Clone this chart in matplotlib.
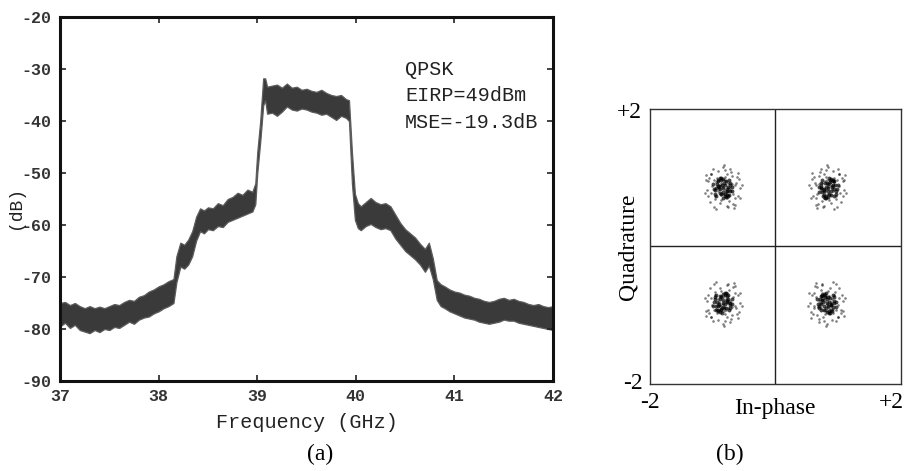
import matplotlib
matplotlib.use("Agg")
import matplotlib.pyplot as plt

# ---------------- data: spectrum envelope (a) ----------------
freq_ghz = [37.00, 37.05, 37.10, 37.15, 37.20, 37.25, 37.30, 37.35, 37.40, 37.45,
            37.50, 37.55, 37.60, 37.65, 37.70, 37.75, 37.80, 37.85, 37.90, 37.95,
            38.00, 38.05, 38.10, 38.15, 38.18, 38.22, 38.26, 38.30, 38.34, 38.38,
            38.42, 38.46, 38.50, 38.55, 38.60, 38.65, 38.70, 38.75, 38.80, 38.85,
            38.90, 38.95, 38.98, 39.00, 39.03, 39.06, 39.08, 39.10, 39.15, 39.20,
            39.25, 39.30, 39.35, 39.40, 39.45, 39.50, 39.55, 39.60, 39.65, 39.70,
            39.75, 39.80, 39.85, 39.90, 39.93, 39.96, 39.99, 40.02, 40.05, 40.10,
            40.15, 40.20, 40.25, 40.30, 40.35, 40.40, 40.45, 40.50, 40.55, 40.60,
            40.65, 40.70, 40.74, 40.78, 40.82, 40.86, 40.90, 40.95, 41.00, 41.05,
            41.10, 41.15, 41.20, 41.25, 41.30, 41.35, 41.40, 41.45, 41.50, 41.55,
            41.60, 41.65, 41.70, 41.75, 41.80, 41.85, 41.90, 41.95, 42.00]
upper_db = [-75.0, -74.8, -75.4, -75.0, -75.6, -76.0, -75.6, -76.0, -75.7, -76.0,
            -75.6, -75.2, -75.4, -74.8, -74.4, -74.6, -73.8, -73.5, -72.8, -72.4,
            -71.8, -71.4, -70.8, -70.4, -66.0, -63.4, -63.8, -62.8, -61.2, -58.4,
            -56.8, -57.2, -56.6, -56.8, -55.8, -56.2, -55.0, -54.6, -53.8, -54.2,
            -53.2, -53.6, -52.0, -46.0, -40.0, -31.8, -31.8, -33.4, -33.2, -33.0,
            -33.6, -32.8, -33.6, -33.4, -34.0, -33.8, -34.2, -34.4, -34.0, -34.6,
            -35.0, -35.2, -35.0, -35.8, -36.0, -46.0, -54.0, -55.8, -56.4, -55.6,
            -54.8, -55.6, -56.0, -55.8, -56.4, -58.0, -59.6, -60.8, -61.6, -62.4,
            -63.6, -64.6, -63.4, -66.4, -70.6, -71.4, -71.8, -72.4, -72.8, -73.0,
            -73.4, -73.6, -74.0, -74.2, -74.6, -74.8, -74.6, -74.2, -74.0, -74.4,
            -74.2, -74.6, -74.8, -75.2, -75.4, -75.2, -75.6, -75.8, -75.6]
lower_db = [-79.5, -78.8, -79.8, -79.2, -80.2, -80.5, -80.8, -80.2, -80.6, -80.0,
            -80.2, -79.6, -79.8, -79.2, -78.6, -79.0, -78.2, -77.8, -77.6, -77.0,
            -76.6, -76.0, -75.6, -75.0, -71.0, -68.0, -68.4, -67.6, -66.0, -63.0,
            -61.2, -61.6, -60.8, -61.0, -60.2, -60.4, -59.4, -59.0, -58.6, -58.2,
            -57.8, -57.4, -56.0, -50.0, -44.0, -37.0, -36.0, -38.6, -38.4, -39.0,
            -38.2, -37.2, -37.8, -38.0, -37.6, -37.8, -38.2, -38.4, -38.8, -38.6,
            -39.2, -39.8, -39.0, -39.4, -40.0, -52.0, -59.0, -60.6, -61.0, -60.2,
            -59.8, -60.4, -60.8, -60.6, -61.0, -62.6, -63.8, -65.0, -65.8, -66.6,
            -67.6, -69.0, -67.8, -70.4, -74.4, -75.6, -76.0, -76.6, -77.0, -77.4,
            -77.8, -78.0, -78.2, -78.6, -78.8, -79.0, -78.8, -78.6, -78.2, -78.4,
            -78.4, -78.8, -79.0, -79.2, -79.4, -79.6, -79.8, -80.0, -80.2]

x_ticks_a = [37, 38, 39, 40, 41, 42]
y_ticks_a = [-90, -80, -70, -60, -50, -40, -30, -20]
annot_lines = ["QPSK", "EIRP=49dBm", "MSE=-19.3dB"]

# ---------------- data: constellation (b) ----------------
cluster_i = [-0.84, 0.84, -0.84, 0.82]
cluster_q = [0.85, 0.85, -0.82, -0.82]
# outer scatter of a cluster (offsets from its centre)
spread_di = [0.00, 0.05, -0.06, 0.09, -0.03, 0.12, -0.10, 0.02, 0.07, -0.08,
             0.14, -0.14, 0.03, -0.02, 0.17, -0.17, 0.06, -0.09, 0.10, -0.12,
             0.20, -0.19, 0.13, -0.05, 0.24, -0.23, 0.15, -0.13, 0.04, -0.18,
             0.26, -0.25, 0.19, 0.08, -0.15, 0.28, -0.27, 0.21, -0.20, 0.00,
             0.18, -0.06, 0.11, -0.22, 0.25, 0.07, -0.10, 0.30, -0.29, 0.02,
             0.03, -0.05, 0.06, -0.03, 0.01, 0.09, -0.07, 0.05, -0.02, 0.08,
             0.22, -0.24, 0.16, -0.18, 0.27, -0.26, 0.12, -0.14, 0.20, -0.08]
spread_dq = [0.02, -0.06, 0.05, 0.07, -0.10, -0.03, 0.09, 0.12, -0.14, -0.05,
             0.06, 0.11, 0.16, -0.18, -0.08, 0.03, 0.20, 0.15, -0.19, -0.12,
             0.04, -0.07, 0.23, -0.22, -0.11, 0.10, 0.17, -0.16, 0.26, 0.21,
             0.13, -0.03, -0.25, -0.28, 0.27, -0.15, 0.19, 0.08, -0.21, 0.30,
             -0.29, -0.02, 0.00, 0.14, 0.22, -0.26, -0.31, 0.05, -0.07, 0.33,
             -0.03, 0.03, -0.06, 0.07, -0.08, 0.00, 0.02, 0.10, 0.04, -0.04,
             0.16, -0.11, -0.23, 0.20, 0.00, 0.12, 0.28, -0.27, -0.15, 0.25]
# dense core of a cluster
core_di = [0.00, 0.04, -0.04, 0.07, -0.07, 0.02, -0.02, 0.05, -0.05, 0.09,
           -0.09, 0.11, -0.11, 0.03, -0.03, 0.12, -0.12, 0.00, 0.07, -0.07,
           0.14, -0.14, 0.01, -0.05, 0.05, 0.10, -0.10, 0.15, -0.15, 0.00,
           0.08, -0.08, 0.12, -0.01, 0.03, -0.12, 0.06, -0.06, 0.10, -0.03]
core_dq = [0.00, 0.05, -0.02, -0.04, 0.03, 0.08, -0.08, 0.10, -0.07, 0.02,
           0.06, -0.05, 0.00, -0.11, 0.12, 0.05, -0.03, 0.13, -0.10, 0.10,
           0.02, -0.02, -0.14, 0.14, -0.13, 0.11, -0.11, -0.05, 0.06, -0.06,
           -0.12, 0.12, 0.08, 0.04, -0.09, -0.08, -0.01, 0.01, -0.10, 0.15]

# ---------------- figure ----------------
fig = plt.figure(figsize=(9.07, 4.71), dpi=100)
mono = "Liberation Mono"
serif = "Liberation Serif"

ax = fig.add_axes([0.0662, 0.1911, 0.5436, 0.7728])
ax.fill_between(freq_ghz, lower_db, upper_db, color="#3a3a3a", linewidth=0.9,
                edgecolor="#5c5c5c")
ax.set_xlim(37, 42)
ax.set_ylim(-90, -20)
ax.set_xticks(x_ticks_a)
ax.set_yticks(y_ticks_a)
ax.set_xticklabels([str(v) for v in x_ticks_a], fontfamily=mono, fontsize=12,
                   fontweight="bold")
ax.set_yticklabels([str(v) for v in y_ticks_a], fontfamily=mono, fontsize=12,
                   fontweight="bold")
ax.tick_params(direction="in", top=True, right=True, length=4, width=1.2,
               colors="#222222", pad=6)
for lab in ax.get_xticklabels() + ax.get_yticklabels():
    lab.set_color("#333333")
for s in ax.spines.values():
    s.set_linewidth(2.2)
    s.set_color("#111111")
ax.set_xlabel("Frequency (GHz)", fontfamily=mono, fontsize=14.5, labelpad=6,
              color="#222222")
fig.text(0.017, 0.56, "(dB)", rotation=90, fontfamily=mono, fontsize=13,
         ha="center", va="center", color="#222222")
for k, line in enumerate(annot_lines):
    ax.text(0.7, 0.855 - k * 0.072, line, transform=ax.transAxes,
            fontfamily=mono, fontsize=14.5, va="center", ha="left", color="#222222")
fig.text(0.3528, 0.035, "(a)", fontfamily=serif, fontsize=17, ha="center", va="center")

# ---------------- panel (b) ----------------
bx = fig.add_axes([0.7166, 0.1847, 0.2767, 0.5839])
bx.set_xlim(-2, 2)
bx.set_ylim(-2, 2)
bx.axhline(0, color="#222222", lw=1.0)
bx.axvline(0, color="#222222", lw=1.0)
for ci, cq, sx, sy in zip(cluster_i, cluster_q, [1, -1, 1, -1], [1, 1, -1, -1]):
    bx.scatter([ci + sx * d for d in spread_di], [cq + sy * d for d in spread_dq],
               s=3.5, color="black", alpha=0.5, linewidths=0)
    bx.scatter([ci + sy * d for d in core_di], [cq + sx * d for d in core_dq],
               s=8, color="black", alpha=0.7, linewidths=0)
bx.set_xticks([])
bx.set_yticks([])
for s in bx.spines.values():
    s.set_linewidth(1.0)
    s.set_color("#333333")
fig.text(0.6935, 0.762, "+2", fontfamily=serif, fontsize=17, ha="center", va="center")
fig.text(0.6975, 0.185, "-2", fontfamily=serif, fontsize=17, ha="center", va="center")
fig.text(0.7166, 0.145, "-2", fontfamily=serif, fontsize=17, ha="center", va="center")
fig.text(0.983, 0.145, "+2", fontfamily=serif, fontsize=17, ha="center", va="center")
fig.text(0.8545, 0.133, "In-phase", fontfamily=serif, fontsize=17, ha="center", va="center")
fig.text(0.6925, 0.476, "Quadrature", rotation=90, fontfamily=serif, fontsize=17,
         ha="center", va="center")
fig.text(0.805, 0.035, "(b)", fontfamily=serif, fontsize=17, ha="center", va="center")

fig.savefig("out.png", dpi=100)
